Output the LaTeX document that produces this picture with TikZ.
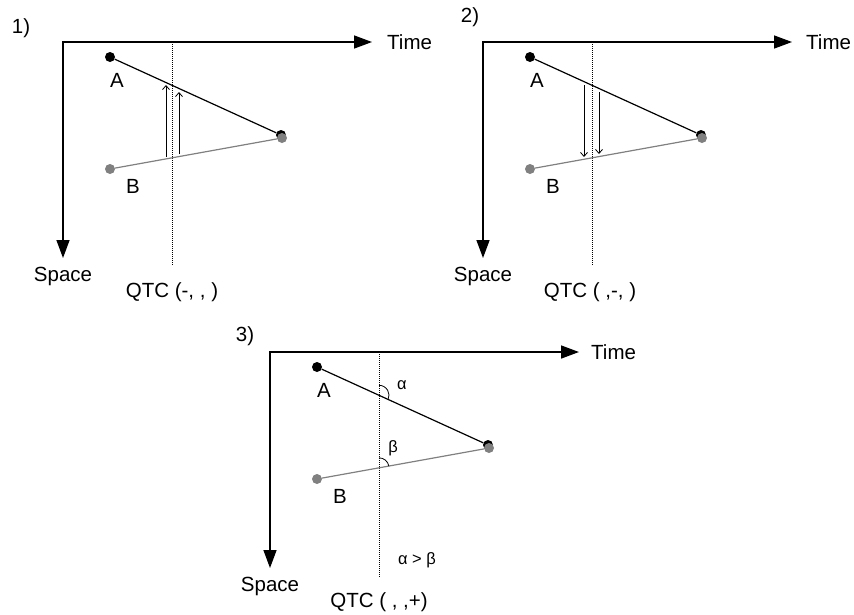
\documentclass[tikz,border=0pt]{standalone}
\usepackage{fontspec}
\setmainfont{Liberation Sans}
\usetikzlibrary{arrows.meta,calc}
\begin{document}
\begin{tikzpicture}[x=1pt,y=1pt,
  axis/.style={line width=1.5pt, {Triangle[length=18pt,width=13pt]}-{Triangle[length=18pt,width=13pt]}},
  dotA/.style={circle,fill=black,inner sep=0pt,minimum size=10pt},
  dotB/.style={circle,fill=gray,inner sep=0pt,minimum size=10pt},
  lineA/.style={line width=1.2pt,black},
  lineB/.style={line width=1.2pt,gray},
  guide/.style={line width=0.5pt,dash pattern=on 1pt off 1pt},
  flow/.style={line width=0.8pt,-{Straight Barb[length=4pt,width=7pt]}},
  lbl/.style={font=\fontsize{20.5}{23}\selectfont,inner sep=0pt},
  sml/.style={font=\fontsize{16.5}{18}\selectfont,inner sep=0pt},
  angarc/.style={line width=0.8pt}]
\useasboundingbox (0,0) rectangle (854,-614);

% ---------- Panel 1 ----------
\coordinate (O1) at (63,-42);
\coordinate (T1) at (372,-42);
\coordinate (S1) at (63,-258);
\draw[axis] (T1) -- (O1) -- (S1);
\coordinate (G1a) at (172,-42);
\coordinate (G1b) at (172,-265);
\draw[guide] (G1a) -- (G1b);
\node[dotA] (A1) at (110,-57) {};
\node[dotA] (E1) at (281,-135) {};
\node[dotB] (F1) at (282,-138) {};
\node[dotB] (B1) at (110,-169) {};
\draw[lineA] (A1) -- (E1);
\draw[lineB] (B1) -- (F1);
\coordinate (P1a) at (166,-157); \coordinate (Q1a) at (166,-85);
\coordinate (P1b) at (179,-154); \coordinate (Q1b) at (179,-92);
\draw[flow] (P1a) -- (Q1a);
\draw[flow] (P1b) -- (Q1b);
\node[lbl] (n1) at (21,-28) {1)};
\node[lbl,anchor=west] (time1) at (387,-42) {Time};
\node[lbl,anchor=base] (space1) at (63,-281) {Space};
\node[lbl,anchor=base] (la1) at (117,-87) {A};
\node[lbl,anchor=base] (lb1) at (133,-193) {B};
\node[lbl,anchor=base] (q1) at (172,-297) {QTC (-, , )};

% ---------- Panel 2 ----------
\coordinate (O2) at (483,-42);
\coordinate (T2) at (792,-42);
\coordinate (S2) at (483,-258);
\draw[axis] (T2) -- (O2) -- (S2);
\coordinate (G2a) at (592,-42);
\coordinate (G2b) at (592,-265);
\draw[guide] (G2a) -- (G2b);
\node[dotA] (A2) at (530,-57) {};
\node[dotA] (E2) at (701,-135) {};
\node[dotB] (F2) at (702,-138) {};
\node[dotB] (B2) at (530,-169) {};
\draw[lineA] (A2) -- (E2);
\draw[lineB] (B2) -- (F2);
\coordinate (P2a) at (584,-85); \coordinate (Q2a) at (584,-157);
\coordinate (P2b) at (599,-92); \coordinate (Q2b) at (599,-154);
\draw[flow] (P2a) -- (Q2a);
\draw[flow] (P2b) -- (Q2b);
\node[lbl] (n2) at (470,-17) {2)};
\node[lbl,anchor=west] (time2) at (806,-42) {Time};
\node[lbl,anchor=base] (space2) at (483,-281) {Space};
\node[lbl,anchor=base] (la2) at (537,-87) {A};
\node[lbl,anchor=base] (lb2) at (553,-193) {B};
\node[lbl,anchor=base] (q2) at (590,-297) {QTC ( ,-, )};

% ---------- Panel 3 ----------
\coordinate (O3) at (270,-352);
\coordinate (T3) at (579,-352);
\coordinate (S3) at (270,-568);
\draw[axis] (T3) -- (O3) -- (S3);
\coordinate (G3a) at (379,-352);
\coordinate (G3b) at (379,-577);
\draw[guide] (G3a) -- (G3b);
\node[dotA] (A3) at (317,-367) {};
\node[dotA] (E3) at (488,-445) {};
\node[dotB] (F3) at (489,-448) {};
\node[dotB] (B3) at (317,-479) {};
\draw[lineA] (A3) -- (E3);
\draw[lineB] (B3) -- (F3);
\coordinate (CA) at ($(A3)!0.3626!(E3)$);
\coordinate (CB) at ($(B3)!0.3605!(F3)$);
\draw[angarc] ([yshift=10pt]CA) arc[start angle=90, end angle=-24.5, radius=10pt];
\draw[angarc] ([yshift=10pt]CB) arc[start angle=90, end angle=10.2, radius=10pt];
\node[sml] (alpha) at (402,-385) {α};
\node[sml] (beta) at (393,-448) {β};
\node[sml] (cmp) at (417,-560) {α > β};
\node[lbl] (n3) at (245,-336) {3)};
\node[lbl,anchor=west] (time3) at (591,-352) {Time};
\node[lbl,anchor=base] (space3) at (270,-591) {Space};
\node[lbl,anchor=base] (la3) at (324,-397) {A};
\node[lbl,anchor=base] (lb3) at (340,-503) {B};
\node[lbl,anchor=base] (q3) at (379,-607) {QTC ( , ,+)};
\end{tikzpicture}
\end{document}
